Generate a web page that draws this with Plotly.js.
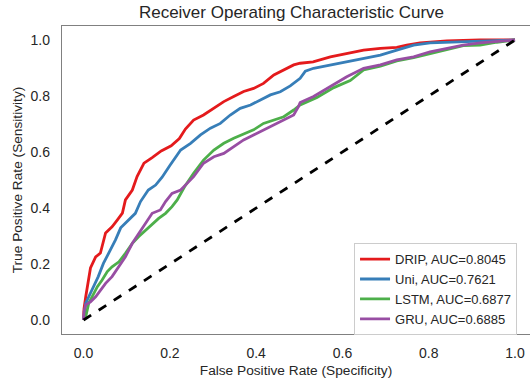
<!DOCTYPE html>
<html>
<head>
<meta charset="utf-8">
<script src="https://cdn.plot.ly/plotly-3.0.1.min.js"></script>
<style>html,body{margin:0;padding:0;background:#fff;}#chart{width:530px;height:381px;}</style>
</head>
<body>
<div id="chart"></div>
<script>
// DRIP
const dripFpr = [0, 0.001, 0.005, 0.016, 0.028, 0.039, 0.051, 0.066, 0.078, 0.090, 0.097, 0.113, 0.124, 0.140, 0.159, 0.180, 0.203, 0.222, 0.236, 0.255, 0.278, 0.302, 0.325, 0.348, 0.371, 0.394, 0.417, 0.441, 0.464, 0.487, 0.502, 0.532, 0.572, 0.610, 0.649, 0.688, 0.726, 0.749, 0.780, 0.842, 0.919, 1.0];
const dripTpr = [0, 0.04, 0.083, 0.186, 0.225, 0.239, 0.311, 0.333, 0.357, 0.382, 0.429, 0.464, 0.512, 0.560, 0.580, 0.604, 0.622, 0.648, 0.682, 0.714, 0.732, 0.756, 0.780, 0.798, 0.816, 0.827, 0.845, 0.875, 0.893, 0.911, 0.917, 0.922, 0.940, 0.952, 0.964, 0.970, 0.974, 0.982, 0.990, 0.997, 1.0, 1.0];
// Uni
const uniFpr = [0, 0.002, 0.005, 0.012, 0.023, 0.034, 0.046, 0.058, 0.074, 0.086, 0.104, 0.120, 0.132, 0.150, 0.167, 0.182, 0.200, 0.225, 0.248, 0.271, 0.294, 0.317, 0.340, 0.363, 0.387, 0.410, 0.433, 0.456, 0.479, 0.502, 0.514, 0.533, 0.572, 0.610, 0.649, 0.688, 0.726, 0.765, 0.803, 0.880, 0.958, 1.0];
const uniTpr = [0, 0.03, 0.06, 0.083, 0.119, 0.155, 0.202, 0.238, 0.286, 0.329, 0.357, 0.381, 0.423, 0.464, 0.482, 0.510, 0.552, 0.607, 0.631, 0.661, 0.685, 0.702, 0.732, 0.756, 0.768, 0.786, 0.804, 0.815, 0.836, 0.863, 0.889, 0.899, 0.911, 0.922, 0.935, 0.946, 0.964, 0.982, 0.990, 0.994, 1.0, 1.0];
// LSTM
const lstmFpr = [0, 0.005, 0.012, 0.020, 0.032, 0.043, 0.055, 0.066, 0.082, 0.097, 0.113, 0.128, 0.144, 0.159, 0.174, 0.190, 0.205, 0.217, 0.225, 0.234, 0.255, 0.278, 0.302, 0.325, 0.348, 0.371, 0.394, 0.417, 0.441, 0.464, 0.487, 0.502, 0.541, 0.580, 0.618, 0.649, 0.688, 0.726, 0.765, 0.803, 0.842, 0.880, 0.919, 0.958, 1.0];
const lstmTpr = [0, 0.012, 0.06, 0.083, 0.119, 0.143, 0.173, 0.190, 0.208, 0.238, 0.274, 0.298, 0.321, 0.339, 0.363, 0.381, 0.405, 0.429, 0.452, 0.476, 0.524, 0.571, 0.607, 0.631, 0.649, 0.664, 0.679, 0.702, 0.714, 0.726, 0.750, 0.768, 0.795, 0.830, 0.855, 0.893, 0.907, 0.925, 0.937, 0.952, 0.966, 0.980, 0.982, 0.992, 1.0];
// GRU
const gruFpr = [0, 0.001, 0.005, 0.016, 0.028, 0.039, 0.051, 0.066, 0.082, 0.097, 0.113, 0.128, 0.144, 0.159, 0.178, 0.190, 0.205, 0.225, 0.240, 0.255, 0.278, 0.302, 0.325, 0.348, 0.371, 0.394, 0.417, 0.441, 0.464, 0.487, 0.498, 0.502, 0.533, 0.572, 0.610, 0.649, 0.688, 0.726, 0.765, 0.803, 0.842, 0.880, 0.919, 0.958, 1.0];
const gruTpr = [0, 0.03, 0.054, 0.065, 0.083, 0.107, 0.131, 0.155, 0.190, 0.226, 0.274, 0.310, 0.345, 0.381, 0.393, 0.423, 0.452, 0.464, 0.488, 0.512, 0.560, 0.583, 0.595, 0.619, 0.643, 0.661, 0.679, 0.696, 0.714, 0.732, 0.762, 0.777, 0.798, 0.833, 0.869, 0.899, 0.911, 0.929, 0.940, 0.958, 0.970, 0.982, 0.990, 0.994, 1.0];
const chanceX = [0, 1];
const chanceY = [0, 1];

const names = ["DRIP, AUC=0.8045", "Uni, AUC=0.7621", "LSTM, AUC=0.6877", "GRU, AUC=0.6885"];
const colors = ["#e41a1c", "#377eb8", "#4daf4a", "#984ea3"];
const xs = [dripFpr, uniFpr, lstmFpr, gruFpr];
const ys = [dripTpr, uniTpr, lstmTpr, gruTpr];
const tickVals = [0, 0.2, 0.4, 0.6, 0.8, 1.0];
const tickText = ["0.0", "0.2", "0.4", "0.6", "0.8", "1.0"];

const traces = names.map((n, i) => ({
  x: xs[i], y: ys[i], type: "scatter", mode: "lines", name: n,
  line: {color: colors[i], width: 2.8}
}));
traces.push({x: chanceX, y: chanceY, type: "scatter", mode: "lines", showlegend: false,
  line: {color: "#000000", width: 2.8, dash: "dash"}});

const font = "Liberation Sans, Arial, sans-serif";
const layout = {
  width: 530, height: 381,
  margin: {l: 62, r: 0, t: 26, b: 47},
  paper_bgcolor: "#ffffff", plot_bgcolor: "#ffffff",
  font: {family: font, color: "#262626", size: 14},
  title: {text: "Receiver Operating Characteristic Curve", font: {size: 17, color: "#262626"}, x: 0.55, xanchor: "center", y: 0.968, yanchor: "middle"},
  xaxis: {
    range: [-0.05, 1.0347], tickvals: tickVals, ticktext: tickText,
    showgrid: false, zeroline: false, showline: true, mirror: true, linecolor: "#808080", linewidth: 1.25,
    ticks: "outside", ticklen: 6, tickcolor: "rgba(0,0,0,0)",
    tickfont: {size: 14, color: "#262626"},
    title: {text: "False Positive Rate (Specificity)", font: {size: 13.7, color: "#262626"}, standoff: 5}
  },
  yaxis: {
    range: [-0.05, 1.05], tickvals: tickVals, ticktext: tickText,
    showgrid: false, zeroline: false, showline: true, mirror: false, linecolor: "#808080", linewidth: 1.25,
    ticks: "outside", ticklen: 8, tickcolor: "rgba(0,0,0,0)",
    tickfont: {size: 14, color: "#262626"},
    title: {text: "True Positive Rate (Sensitivity)", font: {size: 13.7, color: "#262626"}, standoff: 4}
  },
  legend: {
    x: 0.624, xanchor: "left", y: 0.295, yanchor: "top",
    bgcolor: "#ffffff", bordercolor: "#cccccc", borderwidth: 1,
    font: {size: 13, color: "#262626"}, tracegroupgap: 0
  },
  showlegend: true
};

Plotly.newPlot("chart", traces, layout, {displayModeBar: false, staticPlot: true});
</script>
</body>
</html>
